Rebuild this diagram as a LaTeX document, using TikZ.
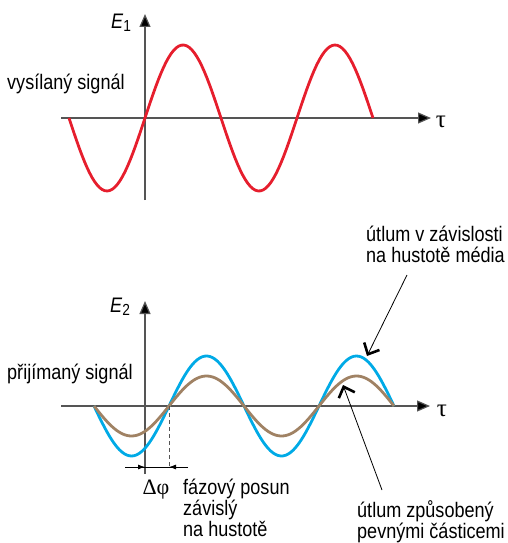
\documentclass[tikz,border=0pt]{standalone}
\usepackage{fontspec}
\setmainfont{Liberation Sans}[FakeStretch=0.86]
\newfontfamily\greekfont{Liberation Serif}
\usepackage{xcolor}
\usetikzlibrary{arrows.meta, positioning, calc}

\definecolor{sigred}{RGB}{230,30,45}
\definecolor{sigblue}{RGB}{0,170,230}
\definecolor{sigbrown}{RGB}{160,130,100}
\definecolor{axisgray}{RGB}{85,85,85}

\tikzset{
  axis/.style={draw=axisgray, line width=1.2pt, -{Triangle[length=13pt,width=11pt,fill=black]}},
  wave/.style={line width=2.8pt, line join=round},
  label/.style={font=\fontsize{21}{21}\selectfont, inner sep=0pt},
  greek/.style={font=\fontsize{25}{25}\selectfont\greekfont, inner sep=0pt},
  note/.style={label, align=left, anchor=north west},
  pointer/.style={line width=0.8pt, -{Straight Barb[length=9pt,width=17pt,line width=2.6pt]}},
  dimline/.style={line width=0.8pt}
}

\begin{document}
\begin{tikzpicture}[x=1pt, y=-1pt]
\useasboundingbox (0,0) rectangle (507,543);

% vysilany signal
\coordinate (o1) at (145,118);
\coordinate (x1a) at (61,118);
\coordinate (x1b) at (431,118);
\coordinate (y1a) at (145,200);
\coordinate (y1b) at (145,14);
\draw[axis] (x1a) -- (x1b);
\draw[axis] (y1a) -- (y1b);
\draw[wave, sigred] plot[domain=-180:540, samples=120] ({145+\x/360*152}, {118-73*sin(\x)});
\node[label] (e1) at (121,23) {\itshape E\/\raisebox{-0.3ex}{\fontsize{16}{16}\selectfont\upshape 1}};
\node[greek] (tau1) at (441,122) {τ};
\node[label, anchor=west] (sent) at (7,84) {vysílaný signál};

% prijimany signal
\coordinate (o2) at (145,406);
\coordinate (x2a) at (61,406);
\coordinate (x2b) at (430,406);
\coordinate (y2a) at (145,474);
\coordinate (y2b) at (145,301);
\draw[axis] (x2a) -- (x2b);
\draw[axis] (y2a) -- (y2b);
\draw[wave, sigblue] plot[domain=-180:540, samples=120] ({169+\x/360*150}, {406-50*sin(\x)});
\draw[wave, sigbrown] plot[domain=-180:540, samples=120] ({169+\x/360*150}, {406-30*sin(\x)});
\node[label] (e2) at (120,307) {\itshape E\/\raisebox{-0.3ex}{\fontsize{16}{16}\selectfont\upshape 2}};
\node[greek] (tau2) at (442,411) {τ};
\node[label, anchor=west] (recv) at (7,374) {přijímaný signál};

% fazovy posun
\coordinate (z0) at (169,406);
\coordinate (z1) at (169,467);
\coordinate (d0) at (125,467);
\coordinate (da) at (145,467);
\coordinate (db) at (169,467);
\coordinate (d1) at (188,467);
\draw[axisgray, line width=1pt, dashed, dash pattern=on 4pt off 3pt] (z0) -- (z1);
\draw[dimline] (d0) -- (d1);
\draw[dimline, -{Latex[length=7pt,width=5pt]}] (d0) -- (da);
\draw[dimline, -{Latex[length=7pt,width=5pt]}] (d1) -- (db);
\node[greek, font=\fontsize{22}{22}\selectfont\greekfont] (dphi) at (156,490) {Δφ};
\node[note] (phase) at (183,479) {fázový posun\\závislý\\na hustotě};

% utlum
\node[note] (att1) at (366,226) {útlum v závislosti\\na hustotě média};
\coordinate (att1end) at (407,275);
\coordinate (peakblue) at (367,356);
\draw[pointer] (att1end) -- (peakblue);
\node[note] (att2) at (357,500) {útlum způsobený\\pevnými částicemi};
\coordinate (att2end) at (382,490);
\coordinate (peakbrown) at (343,385);
\draw[pointer] (att2end) -- (peakbrown);
\end{tikzpicture}
\end{document}
